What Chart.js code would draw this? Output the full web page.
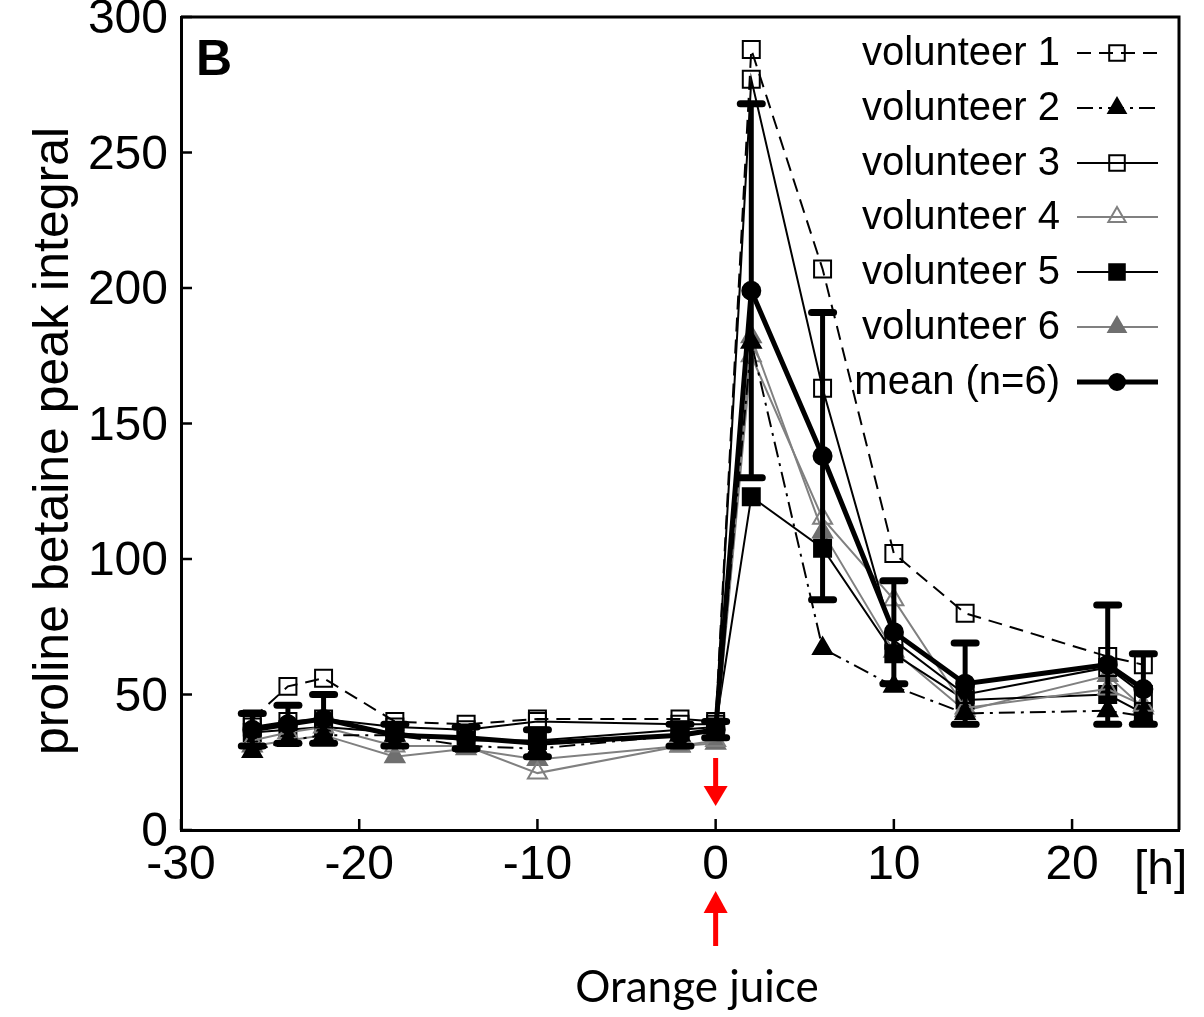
<!DOCTYPE html>
<html>
<head>
<meta charset="utf-8">
<script src="https://cdn.jsdelivr.net/npm/chart.js@4.4.0/dist/chart.umd.min.js"></script>
<style>
  html, body { margin: 0; padding: 0; background: #fff; }
  #wrap { width: 1204px; height: 1017px; }
</style>
</head>
<body>
<div id="wrap"><canvas id="c" width="1204" height="1017"></canvas></div>
<script>
// Sampling times relative to the orange juice intake [h]
const hours = [-26, -24, -22, -18, -14, -10, -2, 0, 2, 6, 10, 14, 22, 24];

// Proline betaine peak integral per volunteer
const volunteer1 = [41, 53, 56, 40, 39, 41, 41, 40, 288, 207, 102, 80, 64, 61];
const volunteer2 = [29, 33, 35, 35, 31, 30, 35, 36, 180, 67, 53, 43, 44, 42];
const volunteer3 = [38, 40, 41, 38, 37, 40, 39, 39, 277, 163, 70, 50, 60, 50];
const volunteer4 = [33, 36, 38, 31, 31, 21, 31, 33, 175, 115, 85, 45, 52, 46];
const volunteer5 = [36, 37, 38, 36, 33, 33, 37, 38, 123, 104, 65, 48, 50, 43];
const volunteer6 = [31, 33, 35, 27, 30, 26, 31, 32, 182, 110, 66, 44, 57, 45];
const meanValues = [37, 39, 41, 35, 34, 32, 35, 37, 199, 138, 73, 54, 61, 52];
const meanError  = [6, 7, 9, 4, 4, 5, 4, 3, 69, 53, 19, 15, 22, 13];

// Axis ticks
const xTicks = [-30, -20, -10, 0, 10, 20];
const yTicks = [0, 50, 100, 150, 200, 250, 300];

const FONT = '"Liberation Sans", Arial, Helvetica, sans-serif';
const GREY = '#808080';

const toPoints = vals => hours.map((h, i) => ({ x: h, y: vals[i] }));

function series(label, vals, o) {
  return Object.assign({
    label,
    data: toPoints(vals),
    borderColor: '#000',
    borderWidth: 2,
    borderDash: [],
    pointStyle: 'rect',
    pointRadius: 12,
    pointBorderWidth: 2,
    pointBorderColor: '#000',
    pointBackgroundColor: 'rgba(0,0,0,0)',
    tension: 0,
    fill: false
  }, o);
}

const datasets = [
  series('volunteer 1', volunteer1, { borderDash: [14, 8] }),
  series('volunteer 2', volunteer2, { borderDash: [16, 6, 3, 6], pointStyle: 'triangle', pointRadius: 11, pointBackgroundColor: '#000' }),
  series('volunteer 3', volunteer3, {}),
  series('volunteer 4', volunteer4, { borderColor: GREY, pointStyle: 'triangle', pointRadius: 11, pointBorderColor: GREY }),
  series('volunteer 5', volunteer5, { pointBackgroundColor: '#000' }),
  series('volunteer 6', volunteer6, { borderColor: GREY, pointStyle: 'triangle', pointRadius: 11, pointBorderColor: '#6f6f6f', pointBackgroundColor: '#6f6f6f' }),
  series('mean (n=6)', meanValues, { borderWidth: 5, pointStyle: 'circle', pointRadius: 9, pointBackgroundColor: '#000', order: -1 })
];

// Error bars of the mean, drawn through the chart scales
const errorBars = {
  id: 'errorBars',
  afterDatasetsDraw(chart) {
    const { ctx, scales: { x, y } } = chart;
    ctx.save();
    ctx.strokeStyle = '#000';
    hours.forEach((h, i) => {
      const px = x.getPixelForValue(h);
      const top = y.getPixelForValue(meanValues[i] + meanError[i]);
      const bot = y.getPixelForValue(meanValues[i] - meanError[i]);
      ctx.lineCap = 'butt';
      ctx.lineWidth = 5;
      ctx.beginPath(); ctx.moveTo(px, top); ctx.lineTo(px, bot); ctx.stroke();
      ctx.lineWidth = 7;
      ctx.lineCap = 'round';
      [top, bot].forEach(v => {
        ctx.beginPath(); ctx.moveTo(px - 11, v); ctx.lineTo(px + 11, v); ctx.stroke();
      });
    });
    ctx.restore();
  }
};

// Frame, inward tick marks, axis title, legend and annotations
const decorations = {
  id: 'decorations',
  afterDraw(chart) {
    const { ctx, chartArea: a, scales: { x, y } } = chart;
    ctx.save();
    ctx.strokeStyle = '#000';
    ctx.lineWidth = 3;
    ctx.beginPath();
    ctx.moveTo(a.left, a.top); ctx.lineTo(a.right, a.top); ctx.lineTo(a.right, a.bottom);
    ctx.stroke();

    ctx.lineWidth = 2.5;
    yTicks.forEach(v => {
      const py = y.getPixelForValue(v);
      ctx.beginPath(); ctx.moveTo(a.left, py); ctx.lineTo(a.left + 11, py); ctx.stroke();
    });
    xTicks.forEach(v => {
      const px = x.getPixelForValue(v);
      ctx.beginPath(); ctx.moveTo(px, a.bottom); ctx.lineTo(px, a.bottom - 11); ctx.stroke();
    });

    // y axis title
    ctx.save();
    ctx.translate(54, 441);
    ctx.rotate(-Math.PI / 2);
    ctx.fillStyle = '#000';
    ctx.font = '50px ' + FONT;
    ctx.textAlign = 'center';
    ctx.textBaseline = 'middle';
    ctx.fillText('proline betaine peak integral', 0, 0);
    ctx.restore();

    // panel letter
    ctx.fillStyle = '#000';
    ctx.font = 'bold 50px ' + FONT;
    ctx.textAlign = 'left';
    ctx.textBaseline = 'alphabetic';
    ctx.fillText('B', a.left + 15, 75);

    // unit label
    ctx.font = '48px ' + FONT;
    ctx.fillText('[h]', 1134, 884);

    // legend: label first, then line sample with marker
    const rows = [53, 108, 163, 217, 272, 327, 382];
    chart.data.datasets.forEach((ds, i) => {
      const ry = rows[i];
      ctx.font = '40px ' + FONT;
      ctx.textAlign = 'right';
      ctx.textBaseline = 'middle';
      ctx.fillStyle = '#000';
      ctx.fillText(ds.label, 1060, ry + 1);
      ctx.save();
      ctx.strokeStyle = ds.borderColor;
      ctx.lineWidth = ds.borderWidth;
      ctx.setLineDash(ds.borderDash || []);
      ctx.beginPath(); ctx.moveTo(1077, ry); ctx.lineTo(1158, ry); ctx.stroke();
      ctx.setLineDash([]);
      ctx.fillStyle = ds.pointBackgroundColor;
      ctx.strokeStyle = ds.pointBorderColor;
      ctx.lineWidth = ds.pointBorderWidth;
      Chart.helpers.drawPoint(ctx, {
        pointStyle: ds.pointStyle,
        radius: ds.pointStyle === 'circle' ? 8 : ds.pointRadius - 1,
        rotation: 0,
        borderWidth: ds.pointBorderWidth
      }, 1117, ry);
      ctx.restore();
    });

    // intake arrows at t = 0
    const x0 = x.getPixelForValue(0);
    ctx.fillStyle = '#ff0000';
    ctx.strokeStyle = '#ff0000';
    ctx.lineWidth = 5;
    ctx.beginPath(); ctx.moveTo(x0, 758); ctx.lineTo(x0, 790); ctx.stroke();
    ctx.beginPath(); ctx.moveTo(x0 - 12, 786); ctx.lineTo(x0 + 12, 786); ctx.lineTo(x0, 806); ctx.closePath(); ctx.fill();

    ctx.beginPath(); ctx.moveTo(x0, 946); ctx.lineTo(x0, 908); ctx.stroke();
    ctx.beginPath(); ctx.moveTo(x0 - 12, 913); ctx.lineTo(x0 + 12, 913); ctx.lineTo(x0, 891); ctx.closePath(); ctx.fill();

    ctx.fillStyle = '#000';
    ctx.font = '44px Lato, "Open Sans", sans-serif';
    ctx.textAlign = 'center';
    ctx.textBaseline = 'alphabetic';
    ctx.fillText('Orange juice', 697, 1002);
    ctx.restore();
  }
};

new Chart(document.getElementById('c'), {
  type: 'line',
  data: { datasets },
  plugins: [errorBars, decorations],
  options: {
    responsive: false,
    animation: false,
    devicePixelRatio: 1,
    layout: { padding: { left: 0, top: 17, right: 25, bottom: 0 } },
    plugins: { legend: { display: false }, tooltip: { enabled: false } },
    elements: { line: { borderCapStyle: 'butt' } },
    scales: {
      x: {
        type: 'linear',
        min: -30,
        max: 26,
        afterBuildTicks: s => { s.ticks = xTicks.map(v => ({ value: v })); },
        afterFit: s => { s.height = 187; s.paddingLeft = 0; s.paddingRight = 0; },
        grid: { display: false, drawTicks: false },
        border: { display: true, color: '#000', width: 3 },
        ticks: { color: '#000', font: { family: FONT, size: 48 }, padding: 7, maxRotation: 0, autoSkip: false }
      },
      y: {
        type: 'linear',
        min: 0,
        max: 300,
        afterBuildTicks: s => { s.ticks = yTicks.map(v => ({ value: v })); },
        afterFit: s => { s.width = 181; s.paddingTop = 0; s.paddingBottom = 0; },
        grid: { display: false, drawTicks: false },
        border: { display: true, color: '#000', width: 3 },
        ticks: { color: '#000', font: { family: FONT, size: 48 }, padding: 13, labelOffset: 3, autoSkip: false }
      }
    }
  }
});
</script>
</body>
</html>
